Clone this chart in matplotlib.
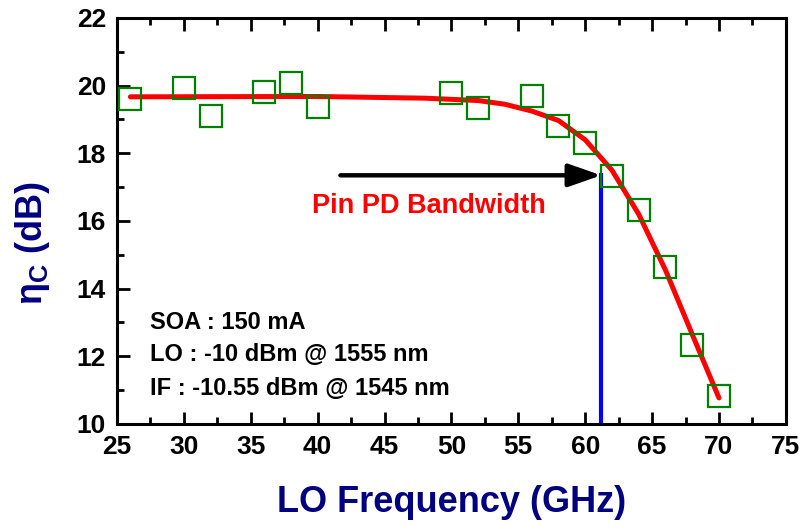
#!/usr/bin/env python3
# Conversion efficiency vs LO frequency, with Pin PD bandwidth marker

import matplotlib
matplotlib.use("Agg")
import matplotlib.pyplot as plt
from matplotlib.ticker import MultipleLocator

plt.rcParams["font.family"] = ["Liberation Sans", "DejaVu Sans"]
plt.rcParams["mathtext.fontset"] = "custom"
plt.rcParams["mathtext.rm"] = "Liberation Sans"
plt.rcParams["mathtext.it"] = "Liberation Sans:italic"

# measured points
freq = [26, 30, 32, 36, 38, 40, 50, 52, 56, 58, 60, 62, 64, 66, 68, 70]
eta = [19.6, 19.93, 19.1, 19.8, 20.08, 19.37, 19.78, 19.34, 19.7, 18.8,
       18.3, 17.33, 16.32, 14.64, 12.33, 10.83]

# fitted curve
fit_freq = [26, 40, 48, 52, 54, 56, 58, 60, 62, 64, 66, 68, 70]
fit_eta = [19.67, 19.68, 19.63, 19.56, 19.45, 19.25, 18.97, 18.4, 17.5,
           16.2, 14.55, 12.65, 10.77]

bw_freq = 61.2
bw_eta = 17.35
arrow_start = 41.7

notes = ["SOA : 150 mA", "LO : -10 dBm @ 1555 nm", "IF : -10.55 dBm @ 1545 nm"]
note_y = [13.0, 12.04, 11.06]

fig = plt.figure(figsize=(8.06, 5.29), dpi=100)
ax = fig.add_axes([0.1452, 0.1985, 0.8298, 0.7675])

ax.plot(fit_freq, fit_eta, color="red", lw=3.6, zorder=3, solid_capstyle="round")
ax.plot(freq, eta, ls="none", marker="s", ms=16, mfc="none", mec="#008000",
        mew=1.6, zorder=4)

ax.plot([bw_freq, bw_freq], [10, bw_eta], color="blue", lw=3, zorder=2)
ax.annotate("", xy=(bw_freq, bw_eta), xytext=(arrow_start, bw_eta),
            arrowprops=dict(arrowstyle="-|>,head_length=1.0,head_width=0.35",
                            mutation_scale=20, lw=3.2, color="black",
                            shrinkA=0, shrinkB=0, capstyle="round"),
            zorder=2)
ax.text(48.3, 16.45, "Pin PD Bandwidth", color="red", fontsize=19.5,
        fontweight="bold", ha="center", va="center")

for s, y in zip(notes, note_y):
    ax.text(27.5, y, s, fontsize=17, fontweight="bold", ha="left", va="center")

ax.set_xlim(25, 75)
ax.set_ylim(10, 22)
ax.xaxis.set_major_locator(MultipleLocator(5))
ax.xaxis.set_minor_locator(MultipleLocator(2.5))
ax.yaxis.set_major_locator(MultipleLocator(2))
ax.yaxis.set_minor_locator(MultipleLocator(1))

ax.tick_params(which="both", direction="in", top=True, right=False, width=2)
ax.tick_params(which="major", length=9, labelsize=19, pad=8)
ax.tick_params(which="minor", length=5)
for lab in ax.get_xticklabels() + ax.get_yticklabels():
    lab.set_fontweight("bold")
for sp in ax.spines.values():
    sp.set_linewidth(2.2)

ax.set_xlabel("LO Frequency (GHz)", fontsize=26, fontweight="bold",
              color="#000080", labelpad=19)
ax.set_ylabel(r"$\mathregular{\eta_C}$ (dB)", fontsize=26, fontweight="bold",
              color="#000080")
ax.yaxis.set_label_coords(-0.097, 0.446)

plt.savefig("out.png", dpi=100)
